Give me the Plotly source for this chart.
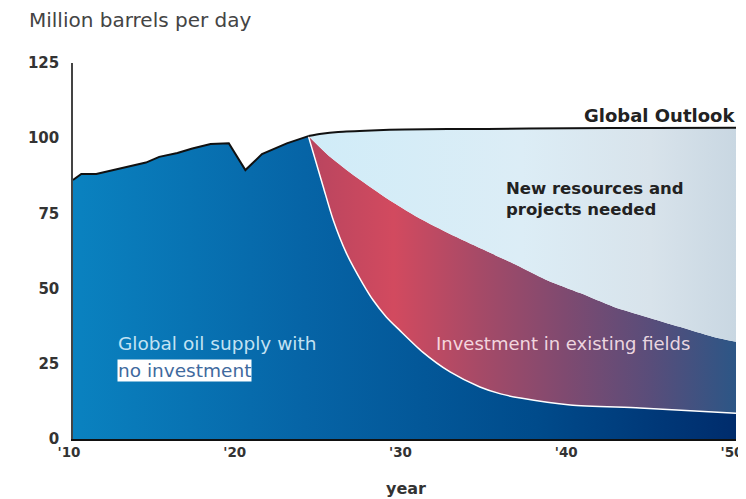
import plotly.graph_objects as go

# ---- data ----
hist_years = [2010.0, 2010.5, 2011.4, 2013.0, 2014.4, 2015.2, 2016.3, 2017.2, 2018.3, 2019.4, 2020.4, 2021.4, 2022.9, 2024.2]
hist_supply = [86.1, 88.1, 88.1, 90.2, 91.9, 93.8, 95.1, 96.6, 98.1, 98.3, 89.4, 94.7, 98.3, 100.7]

decline_years = [2024.2, 2025.1, 2025.7, 2026.5, 2027.5, 2028.1, 2028.9, 2029.7, 2031.1, 2032.75, 2034.55, 2035.8, 2037.0, 2040.0, 2044.2, 2050.0]
decline_supply = [100.7, 83.8, 72.8, 61.7, 51.5, 46.2, 40.6, 36.2, 28.9, 22.3, 17.3, 15.0, 13.6, 11.3, 10.3, 8.6]

investment_years = [2024.2, 2025.5, 2027.1, 2029.1, 2031.1, 2033.1, 2035.2, 2036.5, 2038.6, 2040.6, 2042.6, 2044.6, 2046.6, 2048.6, 2050.0]
investment_supply = [100.7, 93.8, 87.0, 79.4, 72.8, 67.2, 61.8, 58.5, 52.8, 48.5, 44.0, 40.6, 37.3, 34.0, 32.3]

outlook_years = [2024.2, 2025.0, 2026.0, 2028.0, 2030.0, 2035.0, 2040.0, 2045.0, 2050.0]
outlook_demand = [100.7, 101.5, 102.1, 102.6, 102.9, 103.1, 103.3, 103.4, 103.5]

tick_years = [2010, 2020, 2030, 2040, 2050]
tick_labels = ["'10", "'20", "'30", "'40", "'50"]
y_ticks = [0, 25, 50, 75, 100, 125]

FONT = "DejaVu Sans"
blue_scale = [[0, "#0a82c0"], [0.35, "#0664a6"], [0.7, "#004b8b"], [1, "#002c6c"]]
red_scale = [[0, "#b8455f"], [0.2, "#d24a5f"], [0.4, "#a64a67"], [0.6, "#7f4a70"], [0.8, "#594d7a"], [1, "#2c5686"]]
light_scale = [[0, "#d0ecf8"], [0.5, "#dcedf6"], [0.8, "#d8e3eb"], [1, "#c9d7e2"]]
blue_grad = dict(type="horizontal", colorscale=blue_scale, start=2010, stop=2050)
SPL = dict(shape="spline", smoothing=0.7)

fig = go.Figure()

# full blue base (history + decline, linear) to avoid seams
fig.add_trace(go.Scatter(
    x=hist_years + decline_years[1:], y=hist_supply + decline_supply[1:], mode="lines", line=dict(width=0),
    fill="tozeroy", fillgradient=blue_grad, hoverinfo="skip", showlegend=False))
# no-investment decline area (blue, smooth)
fig.add_trace(go.Scatter(
    x=decline_years, y=decline_supply, mode="lines", line=dict(width=0, **SPL),
    fill="tozeroy", fillgradient=blue_grad, hoverinfo="skip", showlegend=False))
# investment in existing fields (red)
fig.add_trace(go.Scatter(
    x=investment_years, y=investment_supply, mode="lines", line=dict(width=0, **SPL),
    fill="tonexty", fillgradient=dict(type="horizontal", colorscale=red_scale, start=2024.2, stop=2050),
    hoverinfo="skip", showlegend=False))
# new resources needed (light)
fig.add_trace(go.Scatter(
    x=outlook_years, y=outlook_demand, mode="lines", line=dict(width=0, **SPL),
    fill="tonexty", fillgradient=dict(type="horizontal", colorscale=light_scale, start=2024.2, stop=2050),
    hoverinfo="skip", showlegend=False))
# white decline line
fig.add_trace(go.Scatter(
    x=decline_years, y=decline_supply, mode="lines",
    line=dict(color="white", width=1.5, **SPL), hoverinfo="skip", showlegend=False))
# black outline: history + outlook
fig.add_trace(go.Scatter(
    x=hist_years, y=hist_supply, mode="lines", line=dict(color="#111111", width=2),
    hoverinfo="skip", showlegend=False))
fig.add_trace(go.Scatter(
    x=outlook_years, y=outlook_demand, mode="lines",
    line=dict(color="#111111", width=2, **SPL), hoverinfo="skip", showlegend=False))

OFF = 8  # page body margin
W, H = 738, 491
L, R, T, B = 65, 10, 55, 60
pw, ph = W - L - R, H - T - B


def px(x):  # page pixel -> paper
    return (x - OFF - L) / pw


def py(y):
    return (H - B - (y - OFF)) / ph


ann = [
    dict(text="Million barrels per day", x=px(27), y=py(20), xanchor="left", yanchor="middle",
         font=dict(size=20, color="#444444", family=FONT)),
    dict(text="<b>Global Outlook</b>", x=px(737), y=py(115), xanchor="right", yanchor="middle",
         font=dict(size=18, color="#222222", family=FONT)),
    dict(text="<b>New resources and<br>projects needed</b>", x=px(504), y=py(199), xanchor="left", yanchor="middle",
         align="left", font=dict(size=16.5, color="#222222", family=FONT)),
    dict(text="Investment in existing fields", x=px(563), y=py(343), xanchor="center", yanchor="middle",
         font=dict(size=18, color="rgba(255,232,238,0.9)", family=FONT)),
    dict(text="Global oil supply with", x=px(116), y=py(343), xanchor="left", yanchor="middle",
         font=dict(size=18.5, color="#c3e2f3", family=FONT)),
    dict(text="no investment", x=px(117), y=py(370), xanchor="left", yanchor="middle",
         bgcolor="white", borderpad=0,
         font=dict(size=18.5, color="#3f6a9e", family=FONT)),
    dict(text="<b>year</b>", x=px(406), y=py(488), xanchor="center", yanchor="middle",
         font=dict(size=16, color="#333333", family=FONT)),
]
for a in ann:
    a.update(xref="paper", yref="paper", showarrow=False)

fig.update_layout(
    width=W, height=H,
    margin=dict(l=L, r=R, t=T, b=B, autoexpand=False),
    paper_bgcolor="white", plot_bgcolor="white",
    font=dict(family=FONT),
    annotations=ann,
    xaxis=dict(range=[2010, 2050], tickvals=tick_years, ticktext=tick_labels, showgrid=False, zeroline=False,
               showline=True, linecolor="#111111", linewidth=2, ticks="", automargin=False,
               ticklabeloverflow="allow", ticklabelshift=-4,
               tickfont=dict(size=13.5, color="#333333", family=FONT, weight=700)),
    yaxis=dict(range=[0, 125], tickvals=y_ticks, showgrid=False, zeroline=False,
               showline=True, linecolor="#444444", linewidth=1.5, ticks="", ticklabelstandoff=9, automargin=False,
               tickfont=dict(size=15, color="#333333", family=FONT, weight=700)),
)

fig.write_html("out.html")
